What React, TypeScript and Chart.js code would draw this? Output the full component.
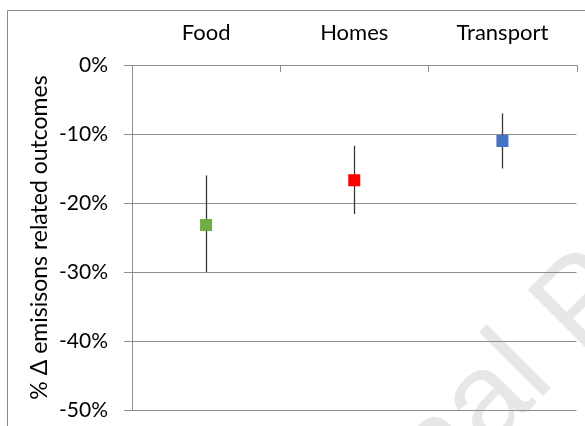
import React, { useEffect, useRef } from "react";
import { Chart, registerables } from "chart.js";

Chart.register(...registerables);

// Sector categories along the top axis
const categories = ["Food", "Homes", "Transport"];
// Central estimate of the emissions change (%)
const centralValues = [-23.2, -16.7, -11.0];
// Range of the estimate (%)
const lowValues = [-30.0, -21.6, -15.0];
const highValues = [-16.0, -11.7, -7.0];
const pointColors = ["#70AD47", "#FF0000", "#4472C4"];
// Value axis
const yMin = -50;
const yMax = 0;
const yStep = 10;
const yTitle = "% Δ emisisons related outcomes";
const watermarkText = "Journal Pre-proof";

const FONT = "Lato, 'Open Sans', sans-serif";
const AXIS_GREY = "#8f8f8f";

const framePlugin = {
  id: "frame",
  beforeDraw(chart: any) {
    const { ctx, width, height } = chart;
    ctx.save();
    // faint diagonal watermark
    ctx.font = "125px 'Liberation Sans', Arial, sans-serif";
    const lead = ctx.measureText("Journa").width;
    ctx.translate(537, 402);
    ctx.rotate(-Math.PI / 4);
    ctx.fillStyle = "#e7e7e7";
    ctx.textBaseline = "alphabetic";
    ctx.fillText(watermarkText, -lead, 0);
    ctx.restore();

    // outer frame (top and left edges)
    ctx.save();
    ctx.strokeStyle = "#8a8a8a";
    ctx.lineWidth = 1;
    ctx.beginPath();
    ctx.moveTo(7.5, height);
    ctx.lineTo(7.5, 10.5);
    ctx.lineTo(width, 10.5);
    ctx.stroke();
    ctx.restore();
  },
};

const categoryTicksPlugin = {
  id: "categoryTicks",
  afterDraw(chart: any) {
    const { ctx, chartArea, scales } = chart;
    const x = scales.x;
    ctx.save();
    ctx.strokeStyle = AXIS_GREY;
    ctx.lineWidth = 1;
    for (let i = 0; i <= categories.length; i++) {
      const px = Math.round(x.getPixelForValue(i - 0.5)) + 0.5;
      ctx.beginPath();
      ctx.moveTo(px, chartArea.top);
      ctx.lineTo(px, chartArea.top + 7);
      ctx.stroke();
    }
    ctx.restore();
  },
};

const errorBarPlugin = {
  id: "errorBars",
  beforeDatasetsDraw(chart: any) {
    const { ctx, scales } = chart;
    const x = scales.x;
    const y = scales.y;
    ctx.save();
    ctx.strokeStyle = "#3a3a3a";
    ctx.lineWidth = 1.3;
    categories.forEach((_, i) => {
      const px = Math.round(x.getPixelForValue(i)) + 0.5;
      ctx.beginPath();
      ctx.moveTo(px, y.getPixelForValue(highValues[i]));
      ctx.lineTo(px, y.getPixelForValue(lowValues[i]));
      ctx.stroke();
    });
    ctx.restore();
  },
};

export default function App() {
  const canvasRef = useRef<HTMLCanvasElement | null>(null);

  useEffect(() => {
    document.body.style.margin = "0";
    const canvas = canvasRef.current;
    if (!canvas) return;
    const chart = new Chart(canvas, {
      type: "line",
      data: {
        labels: categories,
        datasets: [
          {
            data: centralValues,
            showLine: false,
            pointStyle: "rect",
            pointRadius: 8.5,
            pointHoverRadius: 8.5,
            pointBorderWidth: 0,
            pointBackgroundColor: pointColors,
            pointBorderColor: pointColors,
          },
        ],
      },
      options: {
        responsive: false,
        animation: false,
        events: [],
        layout: { padding: { left: 0, top: 0, right: 7, bottom: 16 } },
        plugins: {
          legend: { display: false },
          tooltip: { enabled: false },
          title: { display: false },
        },
        scales: {
          x: {
            type: "category",
            position: "top",
            offset: true,
            afterFit(scale: any) {
              scale.height = 65;
              scale.paddingLeft = 0;
              scale.paddingRight = 0;
            },
            grid: { display: true, drawOnChartArea: false, drawTicks: false },
            border: { display: true, color: AXIS_GREY, width: 1 },
            ticks: {
              color: "#000",
              font: { family: FONT, size: 22 },
              padding: 19,
              maxRotation: 0,
            },
          },
          y: {
            type: "linear",
            min: yMin,
            max: yMax,
            afterFit(scale: any) {
              scale.width = 132;
              scale.paddingTop = 0;
              scale.paddingBottom = 0;
            },
            grid: { color: AXIS_GREY, lineWidth: 1, tickLength: 8 },
            border: { display: true, color: AXIS_GREY, width: 1 },
            ticks: {
              stepSize: yStep,
              color: "#000",
              font: { family: FONT, size: 21 },
              padding: 16,
              callback: (v: any) => `${v}%`,
            },
            title: {
              display: true,
              text: yTitle,
              color: "#000",
              font: { family: FONT, size: 23 },
              padding: { top: 26, bottom: 0 },
            },
          },
        },
      },
      plugins: [framePlugin, errorBarPlugin, categoryTicksPlugin],
    });
    return () => chart.destroy();
  }, []);

  return (
    <div style={{ position: "absolute", left: 0, top: 0, width: 585, height: 426, background: "#fff" }}>
      <canvas ref={canvasRef} width={585} height={426} />
    </div>
  );
}
